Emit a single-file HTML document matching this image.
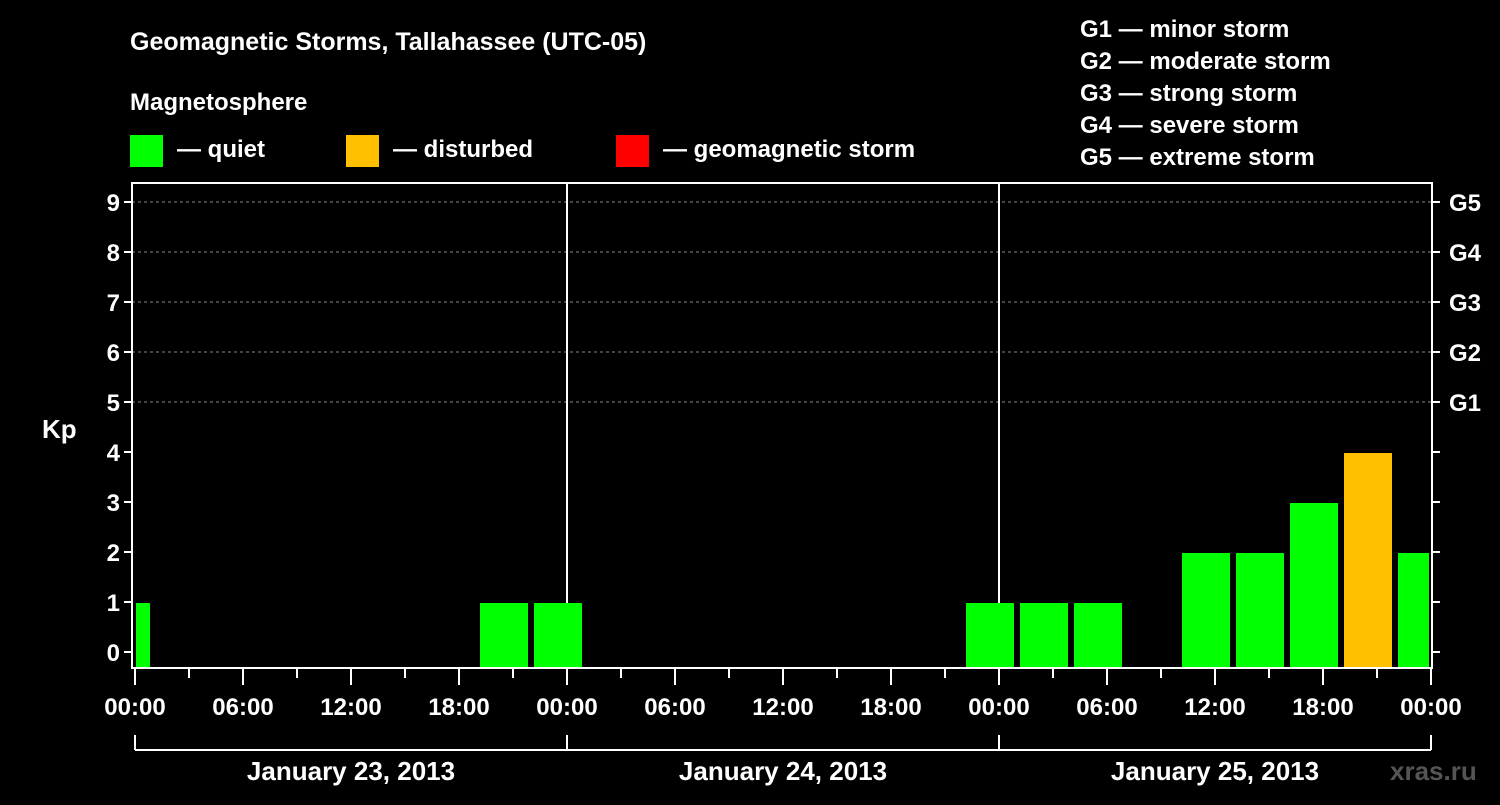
<!DOCTYPE html>
<html><head><meta charset="utf-8"><style>
body{margin:0;background:#000;width:1500px;height:800px;overflow:hidden;font-family:"Liberation Sans",sans-serif}
svg text{font-family:"Liberation Sans",sans-serif;font-weight:bold;fill:#fff}
</style></head><body>
<svg id="c" width="1500" height="800" xmlns="http://www.w3.org/2000/svg">
<text x="130" y="50" font-size="25">Geomagnetic Storms, Tallahassee (UTC-05)</text>
<text x="130" y="110" font-size="24">Magnetosphere</text>
<g><rect x="130" y="135" width="33" height="32" fill="#00ff00"/><text x="177" y="157" font-size="24">— quiet</text></g>
<g><rect x="346" y="135" width="33" height="32" fill="#ffc000"/><text x="393" y="157" font-size="24">— disturbed</text></g>
<g><rect x="616" y="135" width="33" height="32" fill="#ff0000"/><text x="663" y="157" font-size="24">— geomagnetic storm</text></g>
<g font-size="24">
<text x="1080" y="37">G1 — minor storm</text><text x="1080" y="69">G2 — moderate storm</text><text x="1080" y="101">G3 — strong storm</text><text x="1080" y="133">G4 — severe storm</text><text x="1080" y="165">G5 — extreme storm</text></g>
<text x="42" y="438" font-size="26">Kp</text>
<text x="1390" y="780" font-size="26" fill="#555" style="fill:#555">xras.ru</text>
<g id="grid"></g><g id="bars"></g><g id="axes"></g>
</svg>
<script>
const dayLabels=["January 23, 2013","January 24, 2013","January 25, 2013"];
const hourLabels=["00:00","06:00","12:00","18:00"];
const kpTicks=[0,1,2,3,4,5,6,7,8,9];
const gLabels=["G1","G2","G3","G4","G5"];
// bins start at local hour (relative to Jan 23 00:00), 3-hour width
const binStart=[-2,19,22,46,49,52,55,58,61,64,67,70];
const kpValues=[1,1,1,1,1,1,0,2,2,3,4,2];
const ns="http://www.w3.org/2000/svg";
const X0=135,PX_H=18,Y0=652,PX_K=50,L=132,R=1432,T=183,B=668;
const xS=h=>X0+h*PX_H, yS=k=>Y0-k*PX_K;
function mk(p,t,a){const e=document.createElementNS(ns,t);for(const k in a)e.setAttribute(k,a[k]);p.appendChild(e);return e;}
const grid=document.getElementById('grid'),bars=document.getElementById('bars'),ax=document.getElementById('axes');
kpTicks.forEach(k=>{
 if(k>=5){const l=mk(grid,'line',{x1:L,x2:R,y1:yS(k),y2:yS(k),stroke:'#888','stroke-dasharray':'3,3','stroke-width':1});
 }
 const t=mk(ax,'text',{x:L-12,y:yS(k)+9,'font-size':24,'text-anchor':'end'});t.textContent=k;
 
 mk(ax,'line',{x1:L-8,x2:L,y1:yS(k),y2:yS(k),stroke:'#fff','stroke-width':2});
 mk(ax,'line',{x1:R,x2:R+8,y1:yS(k),y2:yS(k),stroke:'#fff','stroke-width':2});
});
gLabels.forEach((g,i)=>{const t=mk(ax,'text',{x:R+17,y:yS(5+i)+9,'font-size':24});t.textContent=g;
 });
[1,2].forEach(d=>{const l=mk(grid,'line',{x1:xS(24*d),x2:xS(24*d),y1:T,y2:B,stroke:'#fff','stroke-width':2});
 });
binStart.forEach((s,i)=>{const v=kpValues[i];if(v<=0)return;
 let x1=Math.max(xS(s)+3,X0+1),x2=Math.min(xS(s+3)-3,R-3);
 const c=v>=5?'#ff0000':v>=4?'#ffc000':'#00ff00';
 const r=mk(bars,'rect',{x:x1,y:yS(v)+1,width:x2-x1,height:B-yS(v)-1,fill:c});
 });
mk(ax,'rect',{x:L,y:T,width:R-L,height:B-T,fill:'none',stroke:'#fff','stroke-width':2});
for(let h=0;h<=72;h+=3){const maj=h%6==0;
 mk(ax,'line',{x1:xS(h),x2:xS(h),y1:B,y2:maj?685:678,stroke:'#fff','stroke-width':2});
 if(maj){const t=mk(ax,'text',{x:xS(h),y:715,'font-size':24,'text-anchor':'middle'});t.textContent=hourLabels[(h/6)%4];
 }}
mk(ax,'line',{x1:xS(0),x2:xS(72),y1:750,y2:750,stroke:'#fff','stroke-width':2});
for(let d=0;d<=3;d++)mk(ax,'line',{x1:xS(24*d),x2:xS(24*d),y1:735,y2:750,stroke:'#fff','stroke-width':2});
dayLabels.forEach((s,d)=>{const t=mk(ax,'text',{x:xS(24*d+12),y:780,'font-size':26,'text-anchor':'middle'});t.textContent=s;
 });
</script>
</body></html>
